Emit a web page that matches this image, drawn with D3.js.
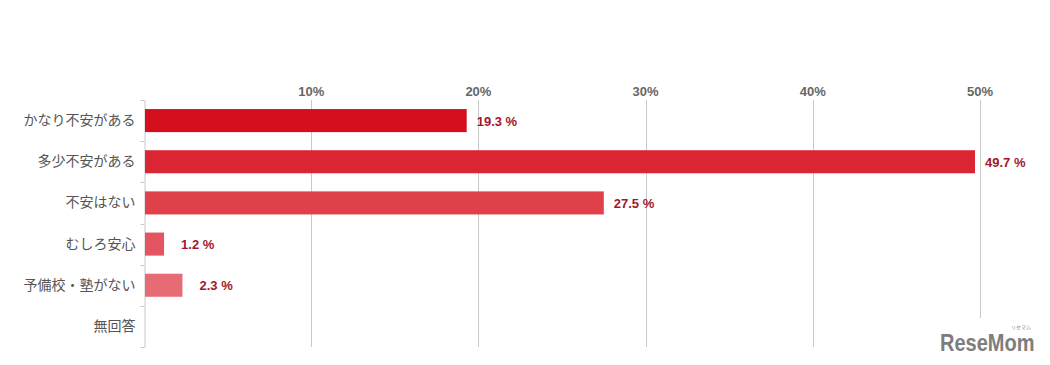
<!DOCTYPE html>
<html>
<head>
<meta charset="utf-8">
<script src="https://cdn.jsdelivr.net/npm/d3@7"></script>
<style>
    body { margin: 0; background: #fff; }
    svg { display: block; font-family: "Liberation Sans", Arial, "Noto Sans CJK JP", sans-serif; }
</style>
</head>
<body>
<svg id="chart" width="1050" height="365"></svg>
<script>
// data
const categories = ['かなり不安がある', '多少不安がある', '不安はない', 'むしろ安心', '予備校・塾がない', '無回答']
const values = [19.3, 49.7, 27.5, 1.2, 2.3, 0]
const barColors = ['#d50f1d', '#dc2533', '#e0404a', '#e35560', '#e76b75', '#ea808a']
const tickValues = [10, 20, 30, 40, 50]

const svg = d3.select('#chart')

const x = d3.scaleLinear().domain([0, 50]).range([144, 980])
const y = d3.scaleBand().domain(categories).range([100, 347]).paddingInner(0.44).paddingOuter(0.22)

// gridlines + top tick labels
const gx = svg.append('g')
gx.selectAll('line')
    .data(tickValues)
    .join('line')
    .attr('x1', d => Math.round(x(d)) + 0.5)
    .attr('x2', d => Math.round(x(d)) + 0.5)
    .attr('y1', 100)
    .attr('y2', 347)
    .attr('stroke', '#c8c8c8')
    .attr('stroke-width', 1)
gx.selectAll('text')
    .data(tickValues)
    .join('text')
    .attr('x', d => x(d))
    .attr('y', 96)
    .attr('text-anchor', 'middle')
    .attr('font-size', 13)
    .attr('font-weight', 'bold')
    .attr('fill', '#666')
    .text(d => d + '%')

// left axis with band ticks
const yAxis = d3.axisLeft(y).tickSize(0).tickSizeOuter(0).tickPadding(9)
const gy = svg.append('g').attr('transform', 'translate(144.5,0)').call(yAxis)
gy.select('.domain').attr('stroke', '#c8c8c8')
gy.selectAll('text')
    .attr('font-size', 14)
    .attr('fill', '#555')
    .attr('font-family', '"Noto Sans CJK JP", "Liberation Sans", sans-serif')
const bounds = [y.range()[0]].concat(categories.map(c => y(c) + y.bandwidth() + y.step() * y.paddingInner() / 2))
bounds[bounds.length - 1] = y.range()[1]
gy.selectAll('.band-tick')
    .data(bounds)
    .join('line')
    .attr('class', 'band-tick')
    .attr('x1', -4)
    .attr('x2', 0)
    .attr('y1', d => Math.round(d) + 0.5)
    .attr('y2', d => Math.round(d) + 0.5)
    .attr('stroke', '#c8c8c8')

// bars
const rows = categories.map((c, i) => ({ c, v: values[i], color: barColors[i] }))
svg.append('g')
    .selectAll('rect')
    .data(rows.filter(d => d.v > 0))
    .join('rect')
    .attr('x', x(0) + 1)
    .attr('y', d => y(d.c))
    .attr('width', d => x(d.v) - x(0) - 1)
    .attr('height', y.bandwidth())
    .attr('fill', d => d.color)

// value labels
svg.append('g')
    .selectAll('text')
    .data(rows.filter(d => d.v > 0))
    .join('text')
    .attr('x', d => x(d.v) + (d.v < 5 ? 17 : 10))
    .attr('y', d => y(d.c) + y.bandwidth() / 2 + 5)
    .attr('font-size', 13)
    .attr('font-weight', 'bold')
    .attr('fill', '#a3162b')
    .text(d => d.v.toFixed(1) + ' %')

// watermark
const logo = svg.append('g')
logo.append('rect').attr('x', 936).attr('y', 318).attr('width', 110).attr('height', 40).attr('fill', '#fff')
logo.append('text')
    .attr('transform', 'translate(940,351) scale(1,1.22)')
    .attr('font-size', 20)
    .attr('font-weight', 'bold')
    .attr('fill', '#7d7d7d')
    .text('ReseMom')
logo.append('text')
    .attr('x', 1021)
    .attr('y', 329)
    .attr('text-anchor', 'middle')
    .attr('font-size', 5)
    .attr('fill', '#888')
    .attr('font-family', '"Noto Sans CJK JP", sans-serif')
    .text('リセマム')
</script>
</body>
</html>
